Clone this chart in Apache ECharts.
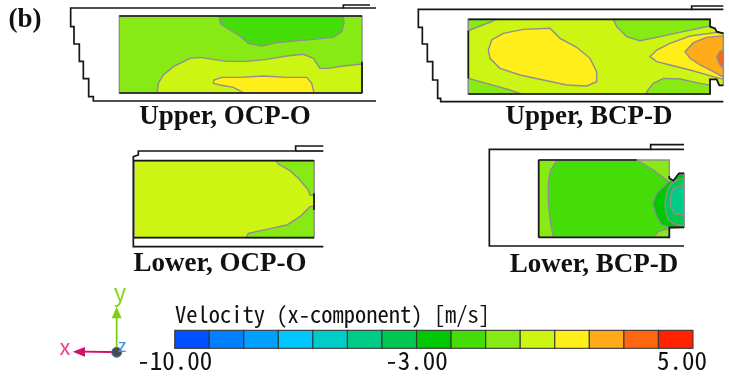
<!DOCTYPE html>
<html><head><meta charset="utf-8">
<style>html,body{margin:0;padding:0;background:#fff}#c{width:729px;height:378px}</style>
<script src="https://cdn.jsdelivr.net/npm/echarts@6/dist/echarts.min.js"></script>
</head><body><div id="c"></div>
<script>
// Colour bar
const barMin = -10, barMax = 5;
const barLabels = [-10, -3, 5];
const barColors = ['#0050ff','#0080ff','#00a0ff','#00c8ff','#00ccc8','#00cc88','#00c850','#00c800','#44dd08','#88ea14','#ccf514','#ffee1a','#ffaa18','#ff6610','#ff2200'];
const barTitle = 'Velocity (x-component) [m/s]';
// Level index: position in barColors
const L_TEAL=5, L_SEA=6, L_GREEN=7, L_LIME=8, L_LGREEN=9, L_YG=10, L_YEL=11, L_ORG=12, L_DORG=13;

// Contours, in magnified picture units (3 per pixel) with a crop origin
const originA=[0,0], originB=[370,0], originC=[120,140], originD=[480,140], originT=[40,275];

const aBase=[[358,48],[1086,48],[1086,279],[358,279]];
const aDark=[[658,50],[662,72],[690,90],[720,108],[745,130],[785,138],[830,128],[880,123],[940,118],[1000,112],[1025,95],[1032,70],[1030,50]];
const aYG=[[472,278],[475,250],[490,225],[520,200],[570,175],[600,172],[640,178],[680,184],[740,184],[800,178],[860,168],[910,163],[940,175],[960,205],[985,205],[1030,198],[1086,192],[1086,278]];
const aYel=[[730,278],[700,262],[660,255],[640,250],[642,240],[665,232],[720,232],[790,228],[860,232],[920,232],[935,250],[942,278]];

const bBase=[[295,58],[1020,58],[1020,80],[1035,85],[1040,95],[1060,100],[1060,256],[1048,256],[1040,238],[1020,238],[1020,282],[295,282]];
const bTL=[[295,58],[375,58],[365,65],[330,78],[295,92]];
const bTR=[[730,58],[740,80],[770,110],[810,122],[870,110],[940,95],[1020,78],[1020,58]];
const bBL=[[295,235],[350,250],[420,270],[455,282],[295,282]];
const bBR=[[830,275],[850,250],[880,235],[930,237],[990,250],[1020,255],[1020,282],[830,282]];
const bYel1=[[355,150],[365,120],[400,100],[460,88],[540,85],[570,115],[620,142],[660,175],[680,215],[680,245],[650,258],[590,255],[520,240],[450,225],[390,205],[360,175]];
const bYel2=[[840,170],[860,150],[900,130],[960,108],[1040,97],[1060,100],[1060,238],[1030,230],[960,210],[900,195],[860,185]];
const bOrg=[[945,155],[970,128],[1010,112],[1060,107],[1060,232],[1030,215],[990,195],[960,175]];
const bDOrg=[[1040,170],[1050,155],[1060,150],[1060,205],[1050,195]];

const cBase=[[42,62],[582,62],[582,293],[42,293]];
const cTop=[[468,62],[475,72],[510,92],[535,115],[565,150],[570,165],[582,165],[582,62]];
const cBot=[[378,293],[385,280],[440,268],[500,255],[540,230],[570,200],[582,198],[582,293]];

const dBase=[[176,60],[568,60],[568,115],[580,122],[597,100],[612,100],[612,262],[568,262],[568,292],[176,292]];
const dLime=[[232,60],[212,90],[205,125],[205,190],[212,250],[220,292],[522,292],[535,275],[568,265],[612,262],[612,103],[598,103],[580,122],[565,125],[520,90],[470,60]];
const dGreen=[[518,190],[530,160],[565,125],[580,122],[597,103],[612,103],[612,262],[570,262],[545,255],[528,225]];
const dSea=[[555,190],[562,150],[575,130],[595,118],[612,116],[612,258],[585,252],[565,240],[557,215]];
const dTeal=[[570,175],[580,145],[612,135],[612,225],[585,222],[572,200]];

const regions=[
 [originA,aBase,L_LGREEN],[originA,aDark,L_LIME],[originA,aYG,L_YG],[originA,aYel,L_YEL],
 [originB,bBase,L_YG],[originB,bTL,L_LGREEN],[originB,bTR,L_LGREEN],[originB,bBL,L_LGREEN],[originB,bBR,L_LGREEN],[originB,bYel1,L_YEL],[originB,bYel2,L_YEL],[originB,bOrg,L_ORG],[originB,bDOrg,L_DORG],
 [originC,cBase,L_YG],[originC,cTop,L_LGREEN],[originC,cBot,L_LGREEN],
 [originD,dBase,L_LGREEN],[originD,dLime,L_LIME],[originD,dGreen,L_GREEN],[originD,dSea,L_SEA],[originD,dTeal,L_TEAL]
];

// Geometry outlines (black)
const aOuter=[[1110,15],[1030,15],[1030,24],[212,24],[212,80],[222,80],[222,132],[238,132],[238,184],[250,184],[250,236],[266,236],[266,290],[280,290],[280,303],[1128,303]];
const aTopExt=[[1030,24],[1128,24]];
const aTop=[[358,48],[1086,48]], aBottom=[[358,279],[1086,279]], aRight=[[1086,185],[1086,279]];
const bOuter=[[1060,18],[965,18],[965,28],[145,28],[145,82],[157,82],[157,132],[172,132],[172,185],[188,185],[188,240],[203,240],[203,295],[212,295],[212,305],[1060,305]];
const bTopExt=[[965,28],[1060,28]];
const bTop=[[295,58],[1020,58],[1020,80],[1035,85],[1040,95],[1060,100]];
const bBottom=[[295,282],[1020,282],[1020,238],[1040,238],[1048,256],[1060,256]];
const bLeft=[[295,92],[295,235]];
const cOuter=[[610,18],[527,18],[527,33],[55,33],[55,45],[40,50],[40,320],[610,320]];
const cTopExt=[[527,33],[610,33]];
const cTop2=[[42,62],[582,62]], cBottom=[[42,293],[582,293]], cRight=[[582,160],[582,210]];
const dOuter=[[612,14],[512,14],[512,28],[28,28],[28,318],[612,318]];
const dTopExt=[[512,28],[612,28]];
const dTop=[[176,60],[470,60]], dBottom=[[176,292],[568,292],[568,262],[612,262]], dLeft=[[176,60],[176,292]];
const dNotch=[[568,108],[568,115],[580,122],[597,100],[612,100]];

const outlines=[
 [originA,aOuter],[originA,aTopExt],[originA,aTop],[originA,aBottom],[originA,aRight],
 [originB,bOuter],[originB,bTopExt],[originB,bTop],[originB,bBottom],[originB,bLeft],
 [originC,cOuter],[originC,cTopExt],[originC,cTop2],[originC,cBottom],[originC,cRight],
 [originD,dOuter],[originD,dTopExt],[originD,dTop],[originD,dBottom],[originD,dLeft],[originD,dNotch]
];

// Axis triad
const triadLines=[[[230,225],[230,120],'#80d010'],[[215,231],[125,230],'#d0106a']];
const triadHeads=[[[215,130],[245,130],[230,95],'#80d010'],[[135,216],[135,245],[98,230],'#d0106a']];
const triadBall=[230,232];

const captions=[
 ['(b)',25,20],['Upper, OCP-O',225,117],['Upper, BCP-D',589,117],['Lower, OCP-O',220,264],['Lower, BCP-D',594,265]
];
const triadLabels=[['y',120,292,'#84d818',24],['x',65,347,'#f0408a',22],['z',122,345,'#3a90e8',18]];

const toPx=(o,p)=>[o[0]+p[0]/3,o[1]+p[1]/3];
const serifFont='"Liberation Serif","Times New Roman",serif';
const monoFont='"Noto Sans Mono CJK JP","Noto Sans CJK JP","DejaVu Sans Mono",monospace';

const chart=echarts.init(document.getElementById('c'),null,{renderer:'canvas'});
chart.setOption({
 animation:false,
 backgroundColor:'#fff',
 grid:[
  {left:0,top:0,width:729,height:378},
  {left:174.7,top:330.3,width:518.3,height:18}
 ],
 xAxis:[
  {gridIndex:0,type:'value',min:0,max:729,show:false},
  {gridIndex:1,type:'value',min:barMin,max:barMax,
   axisLine:{show:false},axisTick:{show:false},splitLine:{show:false},
   axisLabel:{customValues:barLabels,margin:0,interval:0,showMinLabel:true,showMaxLabel:true,hideOverlap:false,
     formatter:v=>v===barMax?'{m|'+v.toFixed(2)+'}':'{n|'+v.toFixed(2)+'}',
     rich:{m:{fontFamily:monoFont,fontSize:25,color:'#111',padding:[0,22,0,0]},n:{fontFamily:monoFont,fontSize:25,color:'#111'}}}}
 ],
 yAxis:[
  {gridIndex:0,type:'value',min:0,max:378,inverse:true,show:false},
  {gridIndex:1,type:'value',min:0,max:1,show:false}
 ],
 graphic:{elements:[
  ...captions.map(c=>({type:'text',x:c[1],y:c[2],z:50,style:{text:c[0],font:'bold 27px '+serifFont,fill:'#111',textAlign:'center',textVerticalAlign:'middle'}})),
  ...triadLabels.map(c=>({type:'text',x:c[1],y:c[2],z:50,style:{text:c[0],font:c[4]+'px "Noto Sans CJK JP",sans-serif',fill:c[3],textAlign:'center',textVerticalAlign:'middle'}})),
  {type:'text',x:175,y:314,z:50,style:{text:barTitle,font:'22.5px '+monoFont,fill:'#111',textAlign:'left',textVerticalAlign:'middle'}}
 ]},
 series:[
  {type:'custom',xAxisIndex:0,yAxisIndex:0,clip:false,z:2,silent:true,data:regions.map((r,i)=>[i]),
   renderItem:(p,api)=>{const r=regions[p.dataIndex];
    return {type:'polygon',shape:{points:r[1].map(q=>api.coord(toPx(r[0],q)))},style:{fill:barColors[r[2]],stroke:'#8f8f8f',lineWidth:1.4}};}},
  {type:'custom',xAxisIndex:0,yAxisIndex:0,clip:false,z:3,silent:true,data:outlines.map((r,i)=>[i]),
   renderItem:(p,api)=>{const r=outlines[p.dataIndex];
    return {type:'polyline',shape:{points:r[1].map(q=>api.coord(toPx(r[0],q)))},style:{fill:null,stroke:'#161616',lineWidth:1.7}};}},
  {type:'custom',xAxisIndex:1,yAxisIndex:1,clip:false,z:3,silent:true,data:barColors.map((c,i)=>[barMin+i,barMin+i+1]),
   renderItem:(p,api)=>{const a=api.coord([api.value(0),1]),b=api.coord([api.value(1),0]);
    return {type:'rect',shape:{x:a[0],y:a[1],width:b[0]-a[0],height:b[1]-a[1]},style:{fill:barColors[p.dataIndex],stroke:'rgba(50,50,50,0.85)',lineWidth:1.2}};}},
  {type:'custom',xAxisIndex:0,yAxisIndex:0,clip:false,z:4,silent:true,data:[[0],[1]],
   renderItem:(p,api)=>{const l=triadLines[p.dataIndex],h=triadHeads[p.dataIndex];
    return {type:'group',children:[
     {type:'line',shape:(()=>{const s=api.coord(toPx(originT,l[0])),e=api.coord(toPx(originT,l[1]));return {x1:s[0],y1:s[1],x2:e[0],y2:e[1]};})(),style:{stroke:l[2],lineWidth:1.8}},
     {type:'polygon',shape:{points:h.slice(0,3).map(q=>api.coord(toPx(originT,q)))},style:{fill:h[3]}}
    ]};}},
  {type:'custom',xAxisIndex:0,yAxisIndex:0,clip:false,z:5,silent:true,data:[[0]],
   renderItem:(p,api)=>{const c=api.coord(toPx(originT,triadBall));
    return {type:'circle',shape:{cx:c[0],cy:c[1],r:5},style:{fill:'#4a4a50',stroke:'#3a80d8',lineWidth:1}};}}
 ]
});
</script></body></html>
